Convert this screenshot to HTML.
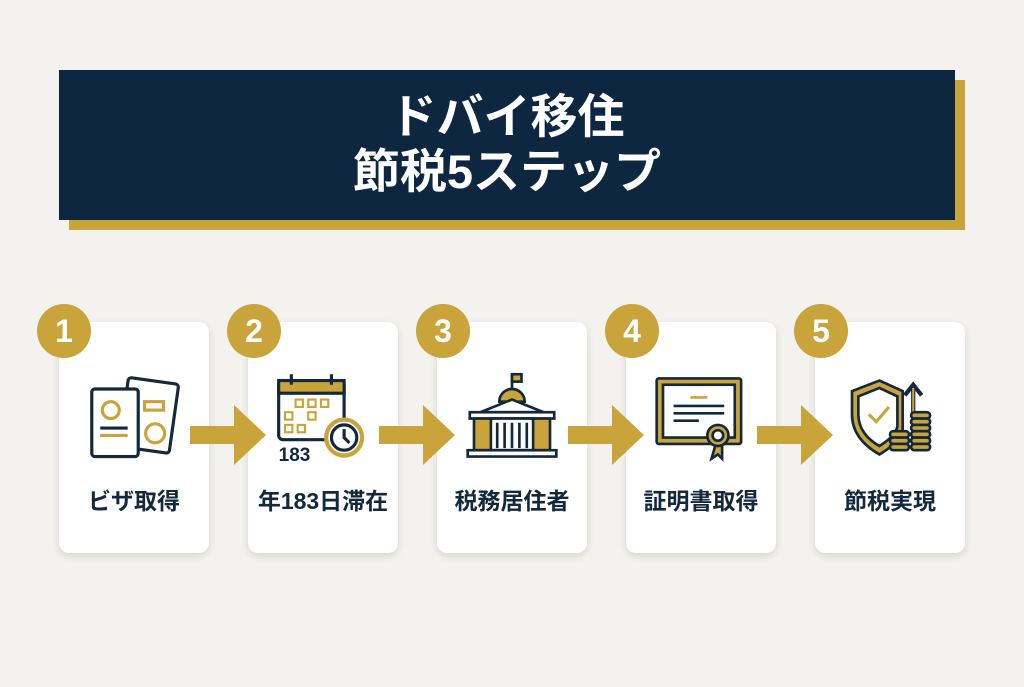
<!DOCTYPE html>
<html><head><meta charset="utf-8"><style>
body{margin:0;width:1024px;height:687px;background:#f3f2ee;position:relative;overflow:hidden;font-family:"Liberation Sans","Noto Sans CJK JP",sans-serif}
.shadow{position:absolute;left:69px;top:80px;width:896px;height:150px;background:#c9a43a}
.title{position:absolute;left:59px;top:70px;width:896px;height:150px;background:#0e2740;color:#fff;font-weight:bold;font-size:47px;text-align:center;line-height:55px;padding-top:19px;box-sizing:border-box}
.card{position:absolute;top:322px;width:150px;height:231px;background:#fff;border-radius:10px;box-shadow:0 3px 8px rgba(0,0,0,.12)}
.lbl{position:absolute;top:160px;width:100%;text-align:center;font-weight:bold;font-size:23px;color:#13283c}
.num{position:absolute;top:304px;width:54px;height:54px;border-radius:50%;background:#c9a43a;color:#fff;font-weight:bold;font-size:32px;text-align:center;line-height:54px}
.arr{position:absolute;top:405px}
.ic{position:absolute;left:22px;top:48px}
</style></head><body>
<div class="shadow"></div>
<div class="title">ドバイ移住<br>節税5ステップ</div>

<div class="card" style="left:59px"><svg class="ic" width="106" height="95" viewBox="0 0 100 90" fill="none" stroke="#13283c" stroke-width="3">
<rect x="40" y="10" width="48" height="66" rx="3" transform="rotate(8 64 43)" fill="#fff"/>
<rect x="10" y="18" width="44" height="64" rx="3" fill="#fff"/>
<circle cx="28" cy="38" r="8" stroke="#c9a43a"/><line x1="18" y1="55" x2="44" y2="55"/><line x1="18" y1="62" x2="44" y2="62" stroke="#c9a43a"/>
<rect x="60" y="30" width="18" height="8" stroke="#c9a43a"/><circle cx="70" cy="60" r="9" stroke="#c9a43a"/></svg>
<div class="lbl">ビザ取得</div></div>

<div class="card" style="left:248px"><svg class="ic" width="106" height="95" viewBox="0 0 100 90" fill="none" stroke="#13283c" stroke-width="3">
<rect x="8" y="10" width="62" height="56" rx="4" fill="#fff"/><rect x="8" y="10" width="62" height="12" fill="#c9a43a"/>
<line x1="20" y1="4" x2="20" y2="14"/><line x1="58" y1="4" x2="58" y2="14"/>
<g stroke="#c9a43a" stroke-width="2"><rect x="24" y="28" width="7" height="7"/><rect x="36" y="28" width="7" height="7"/><rect x="48" y="28" width="7" height="7"/><rect x="14" y="40" width="7" height="7"/><rect x="36" y="40" width="7" height="7"/><rect x="14" y="52" width="7" height="7"/><rect x="26" y="52" width="7" height="7"/></g>
<circle cx="70" cy="64" r="17" fill="#fff" stroke="#c9a43a" stroke-width="4"/><circle cx="70" cy="64" r="12"/><path d="M70 56v8l5 5"/>
<text x="8" y="86" font-size="18" font-weight="bold" fill="#13283c" stroke="none" font-family="Liberation Sans">183</text></svg>
<div class="lbl">年183日滞在</div></div>

<div class="card" style="left:437px"><svg class="ic" width="106" height="95" viewBox="0 0 100 90" fill="none" stroke="#13283c" stroke-width="2.5">
<line x1="50" y1="4" x2="50" y2="20"/><rect x="50" y="4" width="9" height="7" fill="#c9a43a"/>
<path d="M38 30a12 12 0 0 1 24 0z" fill="#c9a43a"/><path d="M20 40L50 28 80 40z" fill="#fff"/>
<rect x="10" y="40" width="80" height="6" fill="#fff"/><rect x="14" y="46" width="72" height="30" fill="#c9a43a"/>
<rect x="30" y="46" width="40" height="30" fill="#fff"/><path d="M36 50v24M43 50v24M50 50v24M57 50v24M64 50v24"/>
<rect x="8" y="76" width="84" height="6" fill="#fff"/></svg>
<div class="lbl">税務居住者</div></div>

<div class="card" style="left:626px"><svg class="ic" width="106" height="95" viewBox="0 0 100 90" fill="none" stroke="#13283c" stroke-width="2.5">
<rect x="8" y="8" width="80" height="62" rx="2" fill="#c9a43a"/><rect x="14" y="14" width="68" height="50" fill="#fff"/>
<line x1="40" y1="26" x2="56" y2="26" stroke="#c9a43a"/><line x1="24" y1="34" x2="72" y2="34"/><line x1="24" y1="41" x2="72" y2="41"/><line x1="24" y1="48" x2="48" y2="48"/>
<path d="M64 70l-4 14 6-4 4 4 0-14" fill="#c9a43a"/><circle cx="66" cy="62" r="10" fill="#c9a43a"/><circle cx="66" cy="62" r="5" fill="#fff"/></svg>
<div class="lbl">証明書取得</div></div>

<div class="card" style="left:815px"><svg class="ic" width="106" height="95" viewBox="0 0 100 90" fill="none" stroke="#13283c" stroke-width="2.5">
<path d="M40 10L14 20v22c0 18 12 30 26 38 10-6 18-12 22-22V20z" fill="#c9a43a"/><path d="M40 17L20 25v17c0 14 9 24 20 30 8-5 14-10 17-18V25z" fill="#fff"/>
<path d="M30 42l7 7 12-14" stroke="#c9a43a" stroke-width="3"/>
<path d="M72 40V16M64 24l8-10 8 10" stroke-width="4" stroke="#13283c"/><path d="M72 40V17" stroke="#c9a43a" stroke-width="2"/>
<g fill="#c9a43a"><rect x="50" y="58" width="18" height="6" rx="3"/><rect x="50" y="64" width="18" height="6" rx="3"/><rect x="50" y="70" width="18" height="6" rx="3"/>
<rect x="70" y="40" width="18" height="6" rx="3"/><rect x="70" y="46" width="18" height="6" rx="3"/><rect x="70" y="52" width="18" height="6" rx="3"/><rect x="70" y="58" width="18" height="6" rx="3"/><rect x="70" y="64" width="18" height="6" rx="3"/><rect x="70" y="70" width="18" height="6" rx="3"/></g></svg>
<div class="lbl">節税実現</div></div>

<div class="num" style="left:37px">1</div>
<div class="num" style="left:227px">2</div>
<div class="num" style="left:416px">3</div>
<div class="num" style="left:605px">4</div>
<div class="num" style="left:794px">5</div>

<svg class="arr" style="left:190px" width="76" height="60"><path d="M0 21h44V0l32 30-32 30V39H0z" fill="#c9a43a"/></svg>
<svg class="arr" style="left:379px" width="76" height="60"><path d="M0 21h44V0l32 30-32 30V39H0z" fill="#c9a43a"/></svg>
<svg class="arr" style="left:568px" width="76" height="60"><path d="M0 21h44V0l32 30-32 30V39H0z" fill="#c9a43a"/></svg>
<svg class="arr" style="left:757px" width="76" height="60"><path d="M0 21h44V0l32 30-32 30V39H0z" fill="#c9a43a"/></svg>
</body></html>
